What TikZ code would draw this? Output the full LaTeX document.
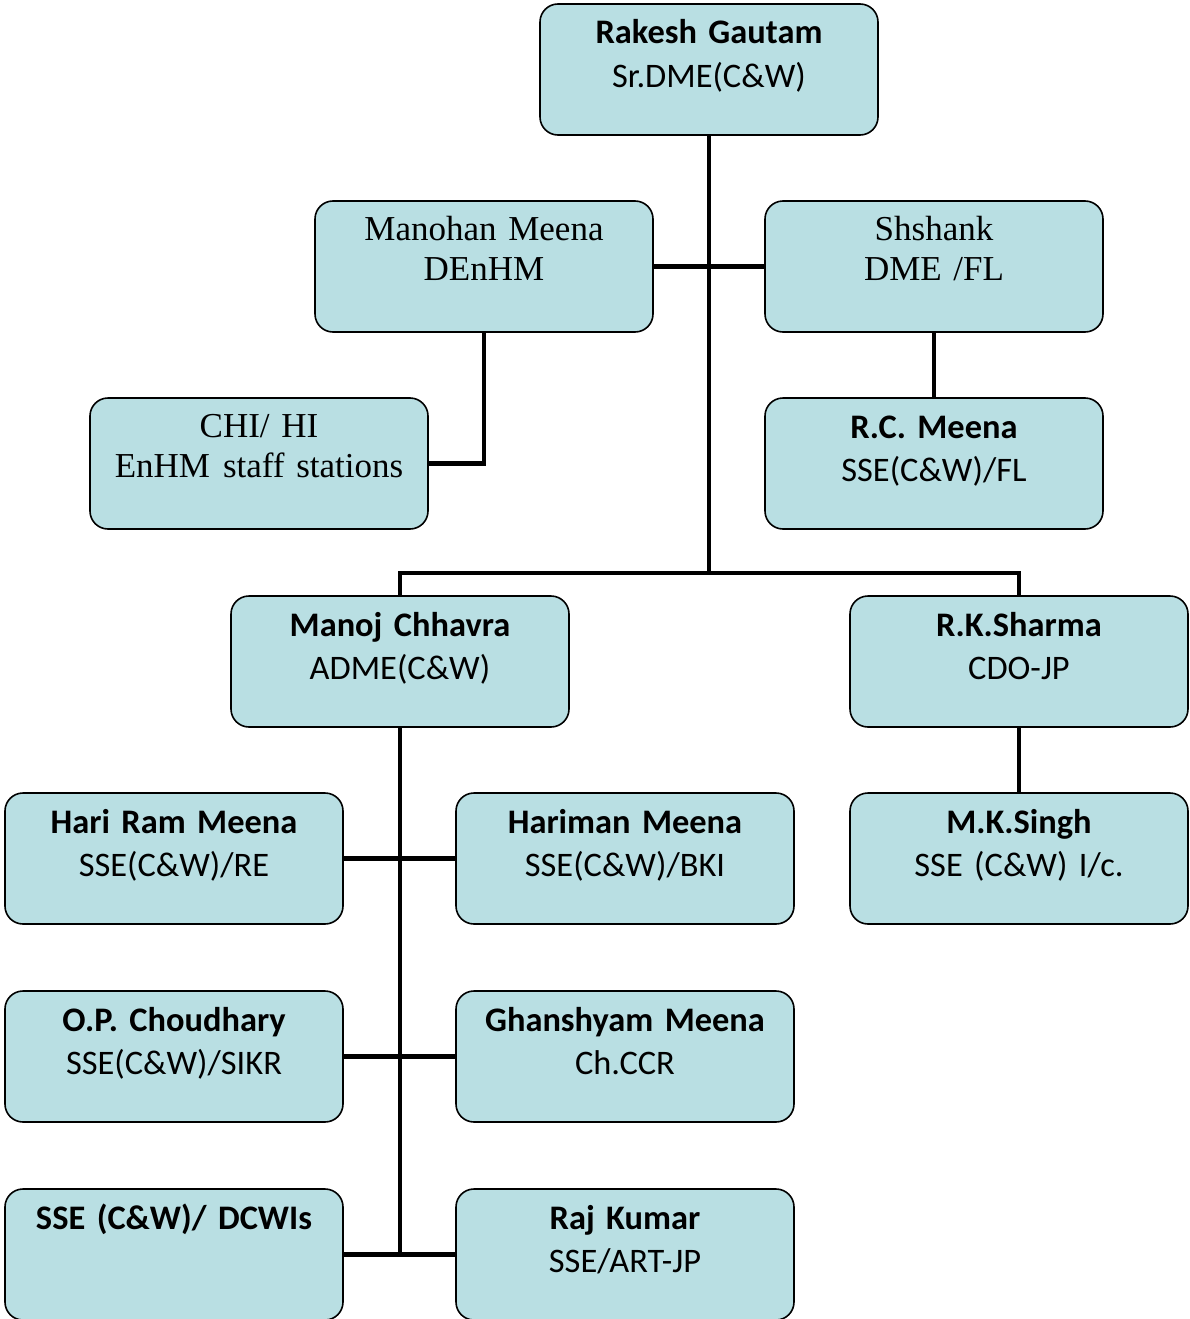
\documentclass[tikz,border=0pt]{standalone}
\usepackage{fontspec}
\setmainfont{Carlito}
\newfontfamily\tnr{Liberation Serif}
\frenchspacing
\definecolor{boxfill}{HTML}{B9DFE3}
\tikzset{
  box/.style={draw, line width=1.6pt, rounded corners=18pt, fill=boxfill,
    minimum width=338pt, minimum height=131pt, text width=330pt, align=center,
    inner sep=2pt, text height=25pt, text depth=76pt,
    font=\fontsize{34.4}{43.5}\selectfont},
  tbox/.style={box, text depth=78pt, font=\tnr\fontsize{35}{40}\selectfont},
  link/.style={line width=4.5pt}
}
\begin{document}
\begin{tikzpicture}[x=1pt,y=-1pt]
    \useasboundingbox (0,0) rectangle (1189,1319);
    % top
    \node[box] (rg) at (709,69.5) {\textbf{Rakesh Gautam}\\Sr.DME(C\&W)};
    \node[tbox] (mm) at (484,266.5) {Manohan Meena\\DEnHM};
    \node[tbox] (sh) at (934,266.5) {Shshank\\DME /FL};
    \node[tbox] (chi) at (259,463.5) {CHI/ HI\\EnHM\hspace{13pt}staff stations};
    \node[box] (rc) at (934,463.5) {\textbf{R.C. Meena}\\SSE(C\&W)/FL};
    % middle
    \node[box] (mc) at (400,661.5) {\textbf{Manoj Chhavra}\\ADME(C\&W)};
    \node[box] (rk) at (1019,661.5) {\textbf{R.K.Sharma}\\CDO-JP};
    \node[box] (mk) at (1019,858.5) {\textbf{M.K.Singh}\\SSE (C\&W) I/c.};
    % bottom
    \node[box] (hr) at (174,858.5) {\textbf{Hari Ram Meena}\\SSE(C\&W)/RE};
    \node[box] (hm) at (625,858.5) {\textbf{Hariman Meena}\\SSE(C\&W)/BKI};
    \node[box] (op) at (174,1056.5) {\textbf{O.P. Choudhary}\\SSE(C\&W)/SIKR};
    \node[box] (gm) at (625,1056.5) {\textbf{Ghanshyam Meena}\\Ch.CCR};
    \node[box] (ss) at (174,1254.5) {\textbf{SSE (C\&W)/ DCWIs}};
    \node[box] (rj) at (625,1254.5) {\textbf{Raj Kumar}\\SSE/ART-JP};

    \coordinate (jn) at (709,573);
    \draw[link] (rg.south) -- (jn);
    \draw[link] (mc.north) |- (jn) -| (rk.north);
    \draw[link] (mm.east) -- (sh.west);
    \draw[link] (mm.south) |- (chi.east);
    \draw[link] (sh.south) -- (rc.north);
    \draw[link] (rk.south) -- (mk.north);
    \draw[link] (mc.south) -- (mc.south |- ss.east);
    \draw[link] (hr.east) -- (hm.west);
    \draw[link] (op.east) -- (gm.west);
    \draw[link] (ss.east) -- (rj.west);
\end{tikzpicture}
\end{document}
